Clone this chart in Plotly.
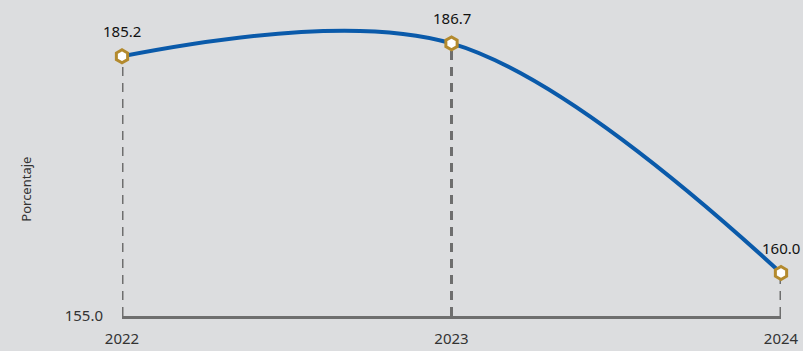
import plotly.graph_objects as go

years = [2022, 2023, 2024]
values = [185.2, 186.7, 160.0]
labels = ["185.2", "186.7", "160.0"]
y_min = 155.0
y_max = 190.0

BG = "#dcdddf"
LINE = "#0a5aaa"
GOLD = "#b38a2e"
GREY = "#6e6e6e"
FONT = "Noto Sans"

fig = go.Figure()

# dashed drop lines
for x, v in zip(years, values):
    fig.add_trace(go.Scatter(
        x=[x, x], y=[y_min, v], mode="lines",
        line=dict(color=GREY, width=3, dash="9px,7px"),
        hoverinfo="skip", showlegend=False, cliponaxis=False))

fig.add_trace(go.Scatter(
    x=years, y=values, mode="lines",
    line=dict(color=LINE, width=4, shape="spline", smoothing=1.0),
    showlegend=False, cliponaxis=False))

fig.add_trace(go.Scatter(
    x=years, y=values, mode="markers",
    marker=dict(symbol="hexagon", size=13, color="white",
                line=dict(color=GOLD, width=3)),
    showlegend=False, cliponaxis=False))

for x, v, t in zip(years, values, labels):
    fig.add_annotation(x=x, y=v, text=t, showarrow=False, yshift=25,
                       font=dict(family=FONT, size=15, color="#111111"))

fig.update_layout(
    width=803, height=351,
    margin=dict(l=122, r=22, t=15, b=35, autoexpand=False),
    paper_bgcolor=BG, plot_bgcolor=BG,
    font=dict(family=FONT, size=14, color="#333333"),
    xaxis=dict(range=[2022, 2024], tickvals=years, ticktext=[str(y) for y in years],
               automargin=False,
               showgrid=False, zeroline=False, showline=True, linecolor=GREY,
               linewidth=3, ticks="outside", ticklen=7, tickcolor="rgba(0,0,0,0)",
               tickfont=dict(family=FONT, size=15, color="#333333")),
    yaxis=dict(range=[y_min, y_max], tickvals=[y_min], ticktext=["155.0"],
               automargin=False,
               showgrid=False, zeroline=False, showline=False,
               ticks="outside", ticklen=15, tickcolor="rgba(0,0,0,0)",
               tickfont=dict(family=FONT, size=15, color="#333333")),
)
fig.add_annotation(xref="paper", yref="paper", x=-0.147, y=0.42, xanchor="center",
                   yanchor="middle", text="Porcentaje", textangle=-90, showarrow=False,
                   font=dict(family=FONT, size=13, color="#333333"))

fig.write_html("out.html")
